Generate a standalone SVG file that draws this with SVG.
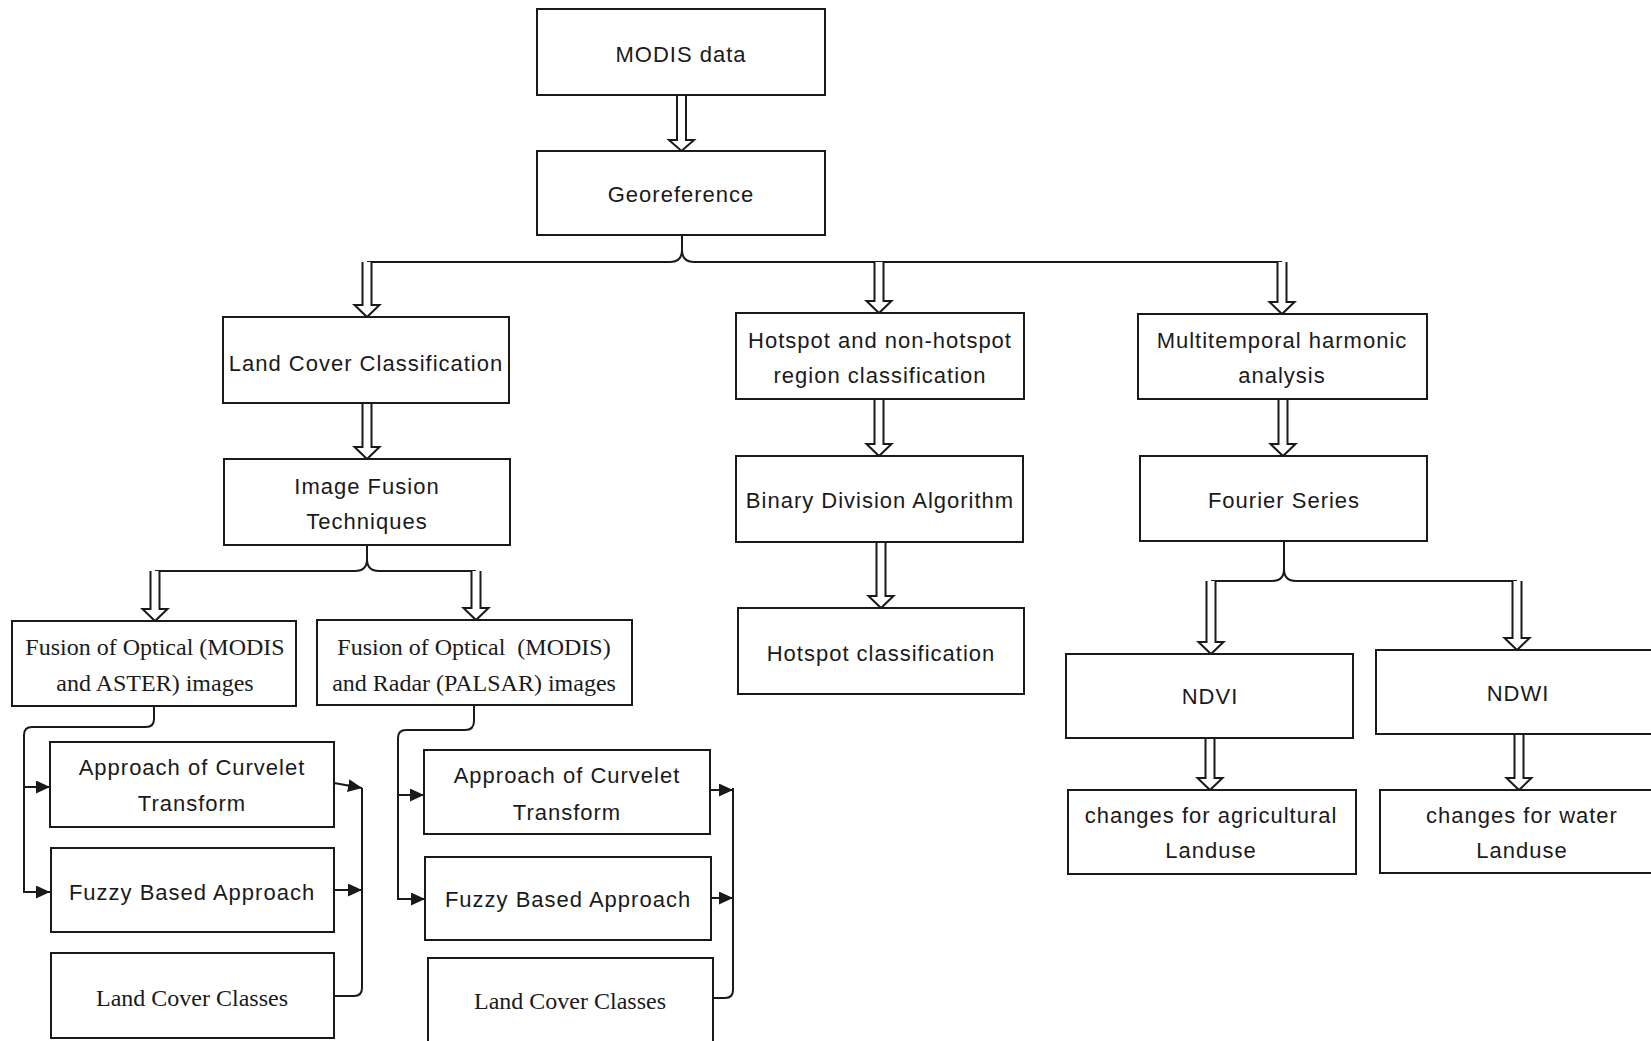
<svg xmlns="http://www.w3.org/2000/svg" width="1651" height="1041" viewBox="0 0 1651 1041">
<defs>
<style>
.box{fill:#fff;stroke:#1a1a1a;stroke-width:2}
.ln{fill:none;stroke:#1a1a1a;stroke-width:2}
.ha{fill:#fff;stroke:#1a1a1a;stroke-width:2;stroke-linejoin:miter}
.s{font-family:"Liberation Sans",Arial,sans-serif;font-size:22px;letter-spacing:1px;fill:#1a1a1a;text-anchor:middle}
.r{font-family:"Liberation Serif","Times New Roman",serif;font-size:24px;fill:#1a1a1a;text-anchor:middle}
</style>
<marker id="ar" viewBox="0 0 14 13" refX="14" refY="6.5" markerWidth="14" markerHeight="13" markerUnits="userSpaceOnUse" orient="auto">
<path d="M0,0 L14,6.5 L0,13 Z" fill="#1a1a1a"/>
</marker>
</defs>
<rect width="1651" height="1041" fill="#fff"/>

<g id="connectors">
<path class="ln" d="M682,235 V250 Q682,262 670,262 H367"/>
<path class="ln" d="M682,250 Q682,262 694,262 H1282"/>
<polyline class="ha" points="362.5,262 362.5,305 354.5,305 367,317 379.5,305 371.5,305 371.5,262"/>
<polyline class="ha" points="874.5,262 874.5,301 866.5,301 879,313 891.5,301 883.5,301 883.5,262"/>
<polyline class="ha" points="1277.5,262 1277.5,302 1269.5,302 1282,314 1294.5,302 1286.5,302 1286.5,262"/>
<polyline class="ha" points="677,95 677,140 669,140 681.5,151 694,140 686,140 686,95"/>
<polyline class="ha" points="362.5,403 362.5,447 354.5,447 367,459 379.5,447 371.5,447 371.5,403"/>
<path class="ln" d="M367,545 V559 Q367,571 355,571 H155"/>
<path class="ln" d="M367,559 Q367,571 379,571 H476"/>
<polyline class="ha" points="150.5,571 150.5,609 142.5,609 155,621 167.5,609 159.5,609 159.5,571"/>
<polyline class="ha" points="471.5,571 471.5,608 463.5,608 476,620 488.5,608 480.5,608 480.5,571"/>
<polyline class="ha" points="874.5,399 874.5,444 866.5,444 879,456 891.5,444 883.5,444 883.5,399"/>
<polyline class="ha" points="876.5,542 876.5,596 868.5,596 881,608 893.5,596 885.5,596 885.5,542"/>
<polyline class="ha" points="1278.5,399 1278.5,444 1270.5,444 1283,456 1295.5,444 1287.5,444 1287.5,399"/>
<path class="ln" d="M1284,540 V569 Q1284,581 1272,581 H1211"/>
<path class="ln" d="M1284,569 Q1284,581 1296,581 H1517"/>
<polyline class="ha" points="1206.5,581 1206.5,642 1198.5,642 1211,654 1223.5,642 1215.5,642 1215.5,581"/>
<polyline class="ha" points="1512.5,581 1512.5,638 1504.5,638 1517,650 1529.5,638 1521.5,638 1521.5,581"/>
<polyline class="ha" points="1205.5,738 1205.5,778 1197.5,778 1210,790 1222.5,778 1214.5,778 1214.5,738"/>
<polyline class="ha" points="1514.5,734 1514.5,778 1506.5,778 1519,790 1531.5,778 1523.5,778 1523.5,734"/>
<path class="ln" d="M154,706 V719 Q154,727 146,727 H32 Q24,727 24,735 V892 H50" marker-end="url(#ar)"/>
<path class="ln" d="M24,787 H50" marker-end="url(#ar)"/>
<path class="ln" d="M334,783 L362,788" marker-end="url(#ar)"/>
<path class="ln" d="M334,890 H362" marker-end="url(#ar)"/>
<path class="ln" d="M362,788 V988 Q362,996 354,996 H334"/>
<path class="ln" d="M474,705 V721 Q474,730 465,730 H406 Q398,730 398,738 V899 H425" marker-end="url(#ar)"/>
<path class="ln" d="M398,795 H424" marker-end="url(#ar)"/>
<path class="ln" d="M710,790 H733" marker-end="url(#ar)"/>
<path class="ln" d="M711,898 H733" marker-end="url(#ar)"/>
<path class="ln" d="M733,788 V990 Q733,998 725,998 H713"/>
</g>

<g id="modis"><rect class="box" x="537" y="9" width="288" height="86"/><text class="s" x="681" y="62">MODIS data</text></g>
<g id="georef"><rect class="box" x="537" y="151" width="288" height="84"/><text class="s" x="681" y="202">Georeference</text></g>
<g id="landcover"><rect class="box" x="223" y="317" width="286" height="86"/><text class="s" x="366" y="371">Land Cover Classification</text></g>
<g id="fusion"><rect class="box" x="224" y="459" width="286" height="86"/><text class="s" x="367" y="494">Image Fusion</text><text class="s" x="367" y="529">Techniques</text></g>
<g id="fusion1"><rect class="box" x="12" y="621" width="284" height="85"/><text class="r" x="155" y="655">Fusion of Optical (MODIS</text><text class="r" x="155" y="691">and ASTER) images</text></g>
<g id="fusion2"><rect class="box" x="317" y="620" width="315" height="85"/><text class="r" x="474" y="655">Fusion of Optical&#160; (MODIS)</text><text class="r" x="474" y="691">and Radar (PALSAR) images</text></g>
<g id="curvelet1"><rect class="box" x="50" y="742" width="284" height="85"/><text class="s" x="192" y="775">Approach of Curvelet</text><text class="s" x="192" y="811">Transform</text></g>
<g id="fuzzy1"><rect class="box" x="51" y="848" width="283" height="84"/><text class="s" x="192" y="900">Fuzzy Based Approach</text></g>
<g id="classes1"><rect class="box" x="51" y="953" width="283" height="85"/><text class="r" x="192" y="1006">Land Cover Classes</text></g>
<g id="curvelet2"><rect class="box" x="424" y="750" width="286" height="84"/><text class="s" x="567" y="783">Approach of Curvelet</text><text class="s" x="567" y="820">Transform</text></g>
<g id="fuzzy2"><rect class="box" x="425" y="857" width="286" height="83"/><text class="s" x="568" y="907">Fuzzy Based Approach</text></g>
<g id="classes2"><rect class="box" x="428" y="958" width="285" height="90"/><text class="r" x="570" y="1009">Land Cover Classes</text></g>
<g id="hotspot"><rect class="box" x="736" y="313" width="288" height="86"/><text class="s" x="880" y="348">Hotspot and non-hotspot</text><text class="s" x="880" y="383">region classification</text></g>
<g id="binary"><rect class="box" x="736" y="456" width="287" height="86"/><text class="s" x="880" y="508">Binary Division Algorithm</text></g>
<g id="hotspotclass"><rect class="box" x="738" y="608" width="286" height="86"/><text class="s" x="881" y="661">Hotspot classification</text></g>
<g id="multitemporal"><rect class="box" x="1138" y="314" width="289" height="85"/><text class="s" x="1282" y="348">Multitemporal harmonic</text><text class="s" x="1282" y="383">analysis</text></g>
<g id="fourier"><rect class="box" x="1140" y="456" width="287" height="85"/><text class="s" x="1284" y="508">Fourier Series</text></g>
<g id="ndvi"><rect class="box" x="1066" y="654" width="287" height="84"/><text class="s" x="1210" y="704">NDVI</text></g>
<g id="ndwi"><rect class="box" x="1376" y="650" width="290" height="84"/><text class="s" x="1518" y="701">NDWI</text></g>
<g id="agri"><rect class="box" x="1068" y="790" width="288" height="84"/><text class="s" x="1211" y="823">changes for agricultural</text><text class="s" x="1211" y="858">Landuse</text></g>
<g id="water"><rect class="box" x="1380" y="790" width="290" height="83"/><text class="s" x="1522" y="823">changes for water</text><text class="s" x="1522" y="858">Landuse</text></g>
</svg>
